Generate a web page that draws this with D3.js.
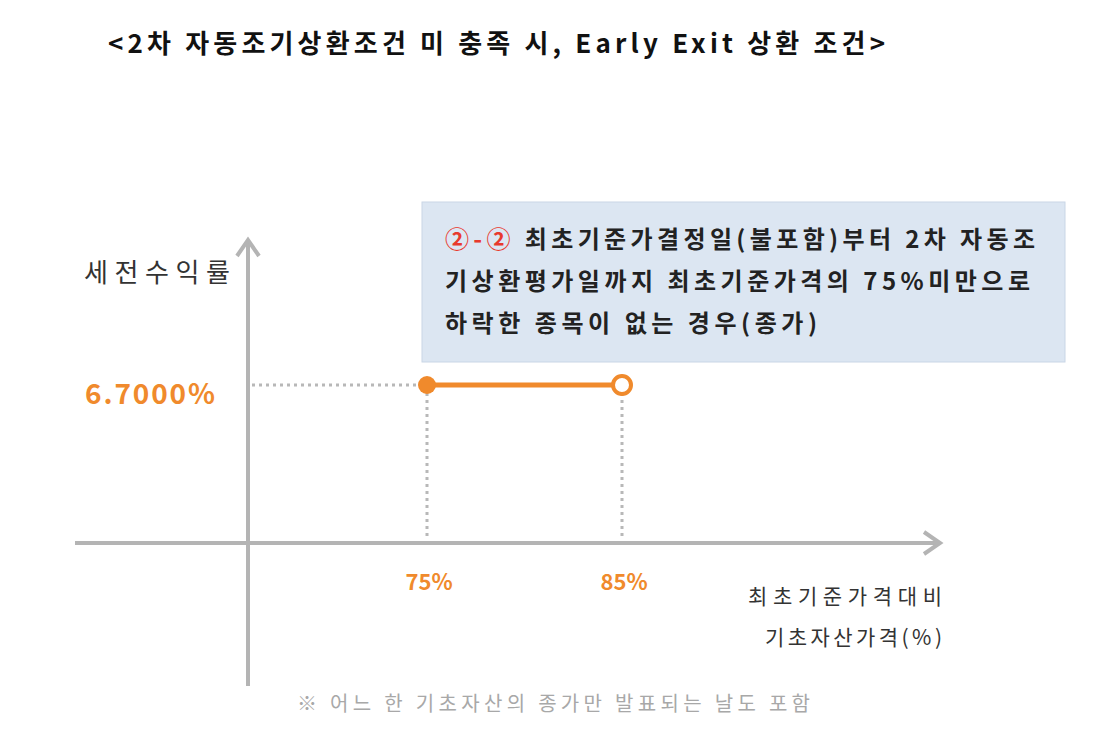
<!DOCTYPE html>
<html><head><meta charset="utf-8">
<script src="https://cdn.jsdelivr.net/npm/d3@7"></script>
<style>body{margin:0;background:#fff}svg{display:block}</style>
</head><body>
<svg id="chart" width="1112" height="730"></svg>
<script>
const barriers = [75, 85];
const barrierLabels = ['75%', '85%'];
const couponRate = 6.7;
const couponLabel = '6.7000%';
const boxLines = ['최초기준가결정일(불포함)부터 2차 자동조', '기상환평가일까지 최초기준가격의 75%미만으로', '하락한 종목이 없는 경우(종가)'];

const font = "'Noto Sans CJK KR', 'Noto Sans', sans-serif";
const orange = '#f08a2c';
const gray = '#b4b4b4';
const svg = d3.select('#chart').style('font-family', font);

const x = d3.scaleLinear().domain(barriers).range([427, 622]);
const y = d3.scaleLinear().domain([0, couponRate]).range([543, 385]);
const x0 = 248;

function txt(g, px, py, s, size, len, anchor) {
  return g.append('text').attr('x', px).attr('y', py).attr('font-size', size)
    .attr('text-anchor', anchor || 'start').attr('textLength', len).attr('lengthAdjust', 'spacing').text(s);
}

// title
txt(svg, 108, 53, '<2차 자동조기상환조건 미 충족 시, Early Exit 상환 조건>', 26, 777)
  .attr('font-weight', 700).attr('fill', '#111');

// axes
const axisG = svg.append('g').attr('stroke', gray).attr('stroke-width', 4).attr('fill', 'none');
axisG.append('line').attr('x1', x0).attr('x2', x0).attr('y1', 686).attr('y2', 242);
axisG.append('path').attr('d', `M${x0-11},${256} L${x0},${240} L${x0+11},${256}`);
axisG.append('line').attr('x1', 75).attr('x2', 938).attr('y1', y(0)).attr('y2', y(0));
axisG.append('path').attr('d', `M${924},${y(0)-11} L${940},${y(0)} L${924},${y(0)+11}`);

// dotted guides
const dot = svg.append('g').attr('stroke', '#b8b8b8').attr('stroke-width', 3).attr('stroke-dasharray', '3,4');
dot.append('line').attr('x1', x0 + 4).attr('x2', x(barriers[0])).attr('y1', y(couponRate)).attr('y2', y(couponRate));
barriers.forEach(b => dot.append('line').attr('x1', x(b)).attr('x2', x(b)).attr('y1', y(couponRate) + 8).attr('y2', y(0) - 3));

// payoff segment
svg.append('line').attr('x1', x(barriers[0])).attr('x2', x(barriers[1])).attr('y1', y(couponRate)).attr('y2', y(couponRate))
  .attr('stroke', orange).attr('stroke-width', 5);
svg.append('circle').attr('cx', x(barriers[0])).attr('cy', y(couponRate)).attr('r', 9).attr('fill', orange);
svg.append('circle').attr('cx', x(barriers[1])).attr('cy', y(couponRate)).attr('r', 9).attr('fill', '#fff')
  .attr('stroke', orange).attr('stroke-width', 4);

// labels
txt(svg, 85, y(couponRate) + 19, couponLabel, 28, 130).attr('font-weight', 700).attr('fill', orange);
barriers.forEach((b, i) => svg.append('text').attr('x', x(b) + 2).attr('y', 590).attr('text-anchor', 'middle')
  .attr('font-size', 22).attr('font-weight', 700).attr('fill', orange).text(barrierLabels[i]));
txt(svg, 84, 282, '세전수익률', 26, 146).attr('fill', '#333');
txt(svg, 748, 604, '최초기준가격대비', 21, 194).attr('fill', '#333');
txt(svg, 765, 645, '기초자산가격(%)', 21, 177).attr('fill', '#333');
txt(svg, 297, 711, '※ 어느 한 기초자산의 종가만 발표되는 날도 포함', 20, 513).attr('fill', '#a8a8a8');

// box
svg.append('rect').attr('x', 422).attr('y', 202).attr('width', 643).attr('height', 160)
  .attr('fill', '#dce6f2').attr('stroke', '#c9d6e6');
const bt = svg.append('g').attr('font-size', 24).attr('font-weight', 700).attr('fill', '#222');
const boxLens = [590, 585, 372];
boxLines.forEach((l, i) => {
  const t = bt.append('text').attr('x', 445).attr('y', 248 + i * 42)
    .attr('textLength', boxLens[i]).attr('lengthAdjust', 'spacing');
  if (i === 0) t.append('tspan').attr('fill', '#e8392d').text('②-② ');
  t.append('tspan').text(l);
});
</script>
</body></html>
